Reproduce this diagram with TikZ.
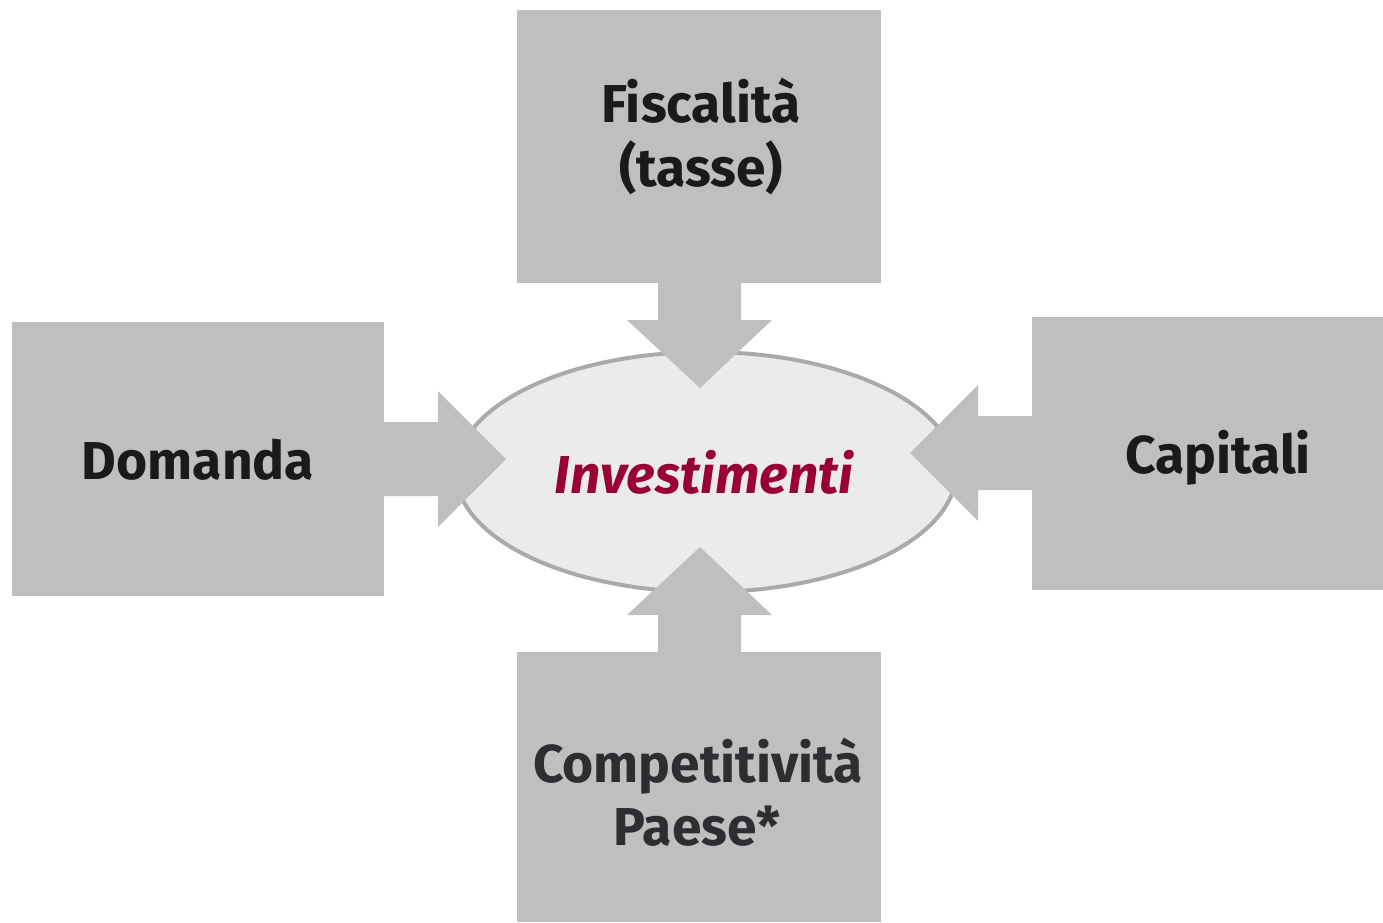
\documentclass[tikz,border=0pt]{standalone}
\usepackage{fontspec}
\setmainfont{Fira Sans}
\definecolor{boxgray}{HTML}{BFBFBF}
\definecolor{ellfill}{HTML}{EBEBEB}
\definecolor{elldraw}{HTML}{AAAAAA}
\definecolor{txtdark}{HTML}{1A1A1A}
\definecolor{txtdark2}{HTML}{2E2E32}
\definecolor{invred}{HTML}{990033}
\tikzset{
  box/.style={fill=boxgray, draw=none, inner sep=0pt, outer sep=0pt},
  lbl/.style={anchor=base, inner sep=0pt, text=txtdark, font=\bfseries\fontsize{40}{48}\selectfont},
  blockarrow/.style={fill=boxgray, draw=none}
}
\begin{document}
\begin{tikzpicture}[x=0.75pt,y=-0.75pt]
\useasboundingbox (0,0) rectangle (1383,922);
% central ellipse
\node (inv) at (706,472) {};
\draw[fill=ellfill, draw=elldraw, line width=3pt] (inv.center) ellipse [x radius=250, y radius=120];
% boxes
\node[box, minimum width=273pt, minimum height=204.75pt] (top) at (699,146.5) {};
\node[box, minimum width=279pt, minimum height=205.5pt] (left) at (198,459) {};
\node[box, minimum width=263.25pt, minimum height=204.75pt] (right) at (1207.5,453.5) {};
\node[box, minimum width=273pt, minimum height=202.5pt] (bottom) at (699,787) {};
% block arrows
\fill[blockarrow] (658,283) -- (741,283) -- (741,320) -- (772,320) -- (700,388) -- (627,320) -- (658,320) -- cycle;
\fill[blockarrow] (658,652) -- (741,652) -- (741,615) -- (772,615) -- (700,547) -- (627,615) -- (658,615) -- cycle;
\fill[blockarrow] (384,422) -- (438,422) -- (438,391) -- (506,459) -- (438,527) -- (438,496) -- (384,496) -- cycle;
\fill[blockarrow] (1032,416) -- (978,416) -- (978,385) -- (910,453) -- (978,521) -- (978,490) -- (1032,490) -- cycle;
% labels
\node[lbl] (t1) at (701,122) {Fiscalità};
\node[lbl] (t2) at (701,186) {(tasse)};
\node[lbl] (l1) at (198,479) {Domanda};
\node[lbl] (r1) at (1218,473) {Capitali};
\node[lbl, text=txtdark2] (b1) at (698,782) {Competitività};
\node[lbl, text=txtdark2] (b2) at (697,845) {Paese*};
\node[lbl, text=invred, font=\bfseries\itshape\fontsize{40}{48}\selectfont] (i1) at (704,493) {Investimenti};
\end{tikzpicture}
\end{document}
